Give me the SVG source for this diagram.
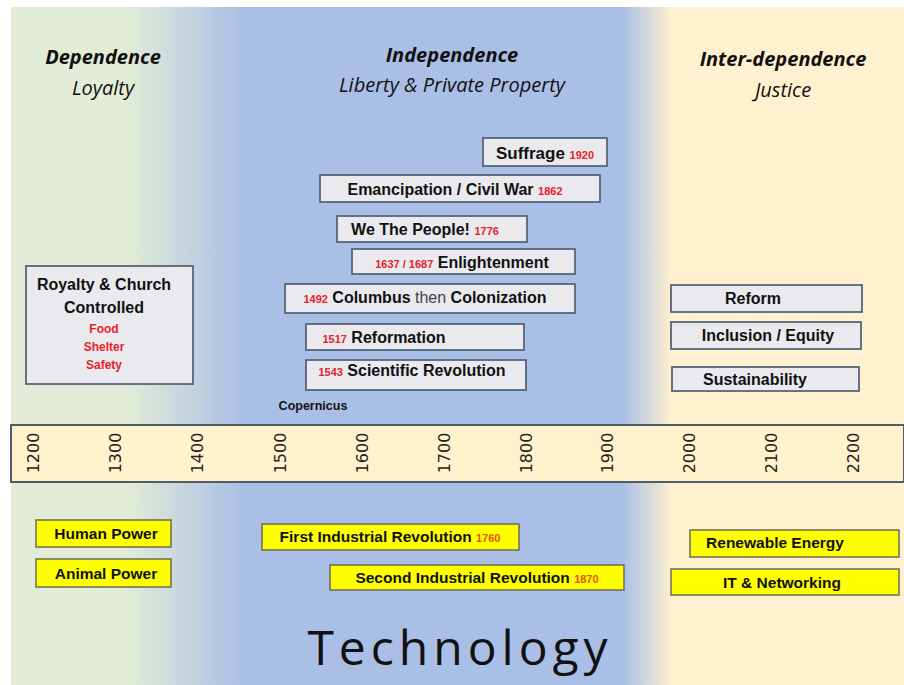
<svg xmlns="http://www.w3.org/2000/svg" width="904" height="685" viewBox="0 0 904 685">
<defs>
<linearGradient id="bg" x1="11" y1="0" x2="904" y2="0" gradientUnits="userSpaceOnUse">
<stop offset="0" stop-color="#e2ecd7"/>
<stop offset="0.13" stop-color="#e2ecd7"/>
<stop offset="0.26" stop-color="#aabfe6"/>
<stop offset="0.685" stop-color="#aabfe6"/>
<stop offset="0.74" stop-color="#fff0cf"/>
<stop offset="1" stop-color="#fff0cf"/>
</linearGradient>
<style>
.box{fill:#e9e9ee;stroke:#56657a;stroke-width:1.8}
.ybox{fill:#ffff00;stroke:#6b6b55;stroke-width:1.5}
.t{font-family:"Liberation Sans",Arial,sans-serif;font-weight:bold;fill:#111;text-anchor:middle}
.r{fill:#e8212a;font-weight:bold}
.h{font-family:"Open Sans","Liberation Sans",sans-serif;font-style:italic;font-size:20px;fill:#111;text-anchor:middle}
.yr{font-family:"DejaVu Sans",Verdana,sans-serif;font-size:16px;fill:#222;text-anchor:middle}
.yt{font-family:"Liberation Sans",Arial,sans-serif;font-weight:bold;font-size:15.5px;fill:#111;text-anchor:middle}
.yo{fill:#e8560a}
</style>
</defs>
<rect x="11" y="7" width="893" height="678" fill="url(#bg)"/>

<g id="headings">
<text class="h" x="103" y="64" font-weight="bold">Dependence</text>
<text class="h" x="103" y="95">Loyalty</text>
<text class="h" x="452" y="62" font-weight="bold">Independence</text>
<text class="h" x="452" y="92">Liberty &amp; Private Property</text>
<text class="h" x="783" y="66" font-weight="bold">Inter-dependence</text>
<text class="h" x="783" y="97">Justice</text>
</g>

<g id="royalty">
<rect class="box" x="26" y="266" width="167" height="118"/>
<text class="t" x="104" y="290" font-size="16">Royalty &amp; Church</text>
<text class="t" x="104" y="313" font-size="16">Controlled</text>
<text class="t r" x="104" y="333" font-size="12">Food</text>
<text class="t r" x="104" y="351" font-size="12">Shelter</text>
<text class="t r" x="104" y="369" font-size="12">Safety</text>
</g>

<g id="suffrage">
<rect class="box" x="483" y="138" width="124" height="28"/>
<text class="t" x="545" y="159" font-size="17">Suffrage <tspan class="r" font-size="11">1920</tspan></text>
</g>
<g id="emancipation">
<rect class="box" x="320" y="175" width="280" height="27"/>
<text class="t" x="455" y="195" font-size="16">Emancipation / Civil War <tspan class="r" font-size="11">1862</tspan></text>
</g>
<g id="people">
<rect class="box" x="337" y="216" width="190" height="26"/>
<text class="t" x="425" y="235" font-size="16">We The People!  <tspan class="r" font-size="11">1776</tspan></text>
</g>
<g id="enlightenment">
<rect class="box" x="352" y="249" width="223" height="25"/>
<text class="t" x="462" y="268" font-size="16"><tspan class="r" font-size="11">1637 / 1687</tspan> Enlightenment</text>
</g>
<g id="columbus">
<rect class="box" x="285" y="284" width="290" height="29"/>
<text class="t" x="425" y="303" font-size="16"><tspan class="r" font-size="11">1492</tspan> Columbus <tspan font-weight="normal" fill="#444">then</tspan> Colonization</text>
</g>
<g id="reformation">
<rect class="box" x="306" y="324" width="218" height="26"/>
<text class="t" x="384" y="343" font-size="16"><tspan class="r" font-size="11">1517</tspan>  Reformation</text>
</g>
<g id="scientific">
<rect class="box" x="306" y="360" width="220" height="30"/>
<text class="t" x="412" y="376" font-size="16"><tspan class="r" font-size="11">1543</tspan> Scientific Revolution</text>
</g>
<g id="copernicus">
<text class="t" x="313" y="410" font-size="12.5" fill="#1c2a3a">Copernicus</text>
</g>

<g id="reform">
<rect class="box" x="671" y="285" width="191" height="27"/>
<text class="t" x="753" y="304" font-size="16">Reform</text>
</g>
<g id="inclusion">
<rect class="box" x="671" y="322" width="190" height="27"/>
<text class="t" x="768" y="341" font-size="16">Inclusion / Equity</text>
</g>
<g id="sustainability">
<rect class="box" x="672" y="367" width="187" height="24"/>
<text class="t" x="755" y="385" font-size="16">Sustainability</text>
</g>

<g id="timeline">
<rect x="11" y="425" width="893" height="57" fill="#fff2cc" stroke="#4f5d6b" stroke-width="2"/>
<text class="yr" transform="translate(39,453) rotate(-90)">1200</text>
<text class="yr" transform="translate(121,453) rotate(-90)">1300</text>
<text class="yr" transform="translate(203,453) rotate(-90)">1400</text>
<text class="yr" transform="translate(286,453) rotate(-90)">1500</text>
<text class="yr" transform="translate(368,453) rotate(-90)">1600</text>
<text class="yr" transform="translate(450,453) rotate(-90)">1700</text>
<text class="yr" transform="translate(532,453) rotate(-90)">1800</text>
<text class="yr" transform="translate(613,453) rotate(-90)">1900</text>
<text class="yr" transform="translate(695,453) rotate(-90)">2000</text>
<text class="yr" transform="translate(777,453) rotate(-90)">2100</text>
<text class="yr" transform="translate(859,453) rotate(-90)">2200</text>
</g>

<g id="human">
<rect class="ybox" x="36" y="520" width="135" height="27"/>
<text class="yt" x="106" y="539">Human Power</text>
</g>
<g id="animal">
<rect class="ybox" x="36" y="559" width="135" height="28"/>
<text class="yt" x="106" y="579">Animal Power</text>
</g>
<g id="first">
<rect class="ybox" x="262" y="524" width="257" height="26"/>
<text class="yt" x="390" y="542">First Industrial Revolution <tspan class="yo" font-size="11">1760</tspan></text>
</g>
<g id="second">
<rect class="ybox" x="330" y="565" width="294" height="25"/>
<text class="yt" x="477" y="583">Second Industrial Revolution <tspan class="yo" font-size="11">1870</tspan></text>
</g>
<g id="renewable">
<rect class="ybox" x="690" y="530" width="209" height="27"/>
<text class="yt" x="775" y="548">Renewable Energy</text>
</g>
<g id="it">
<rect class="ybox" x="671" y="569" width="228" height="26"/>
<text class="yt" x="782" y="588">IT &amp; Networking</text>
</g>

<g id="technology">
<text x="460" y="665" font-family="Open Sans,Liberation Sans,sans-serif" font-size="48" letter-spacing="5" fill="#111" text-anchor="middle">Technology</text>
</g>
</svg>
